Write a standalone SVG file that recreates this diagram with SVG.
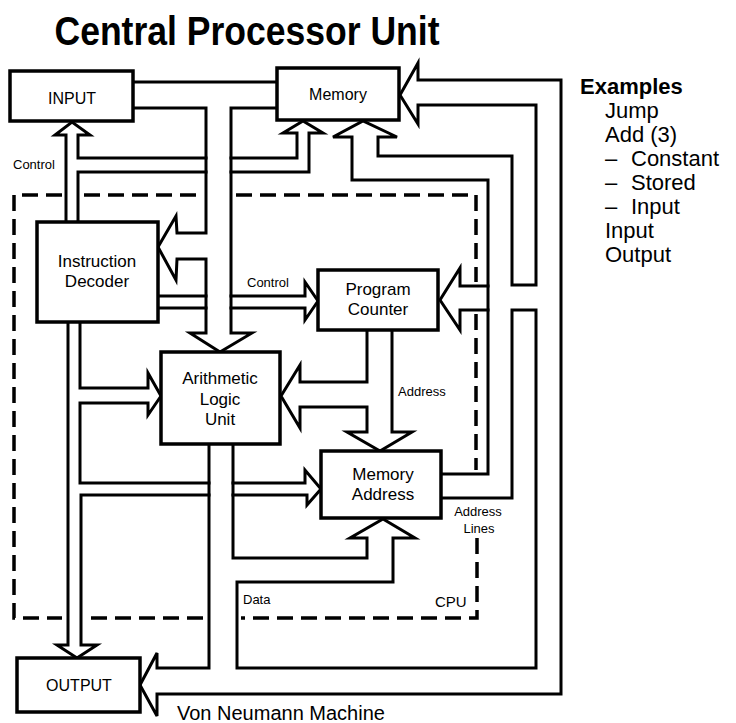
<svg xmlns="http://www.w3.org/2000/svg" width="736" height="723" viewBox="0 0 736 723">
<style>
  text { font-family: "Liberation Sans", Arial, Helvetica, sans-serif; fill: #000; }
  .box { fill: #fff; stroke: #000; stroke-width: 3.5; }
  .ln { fill: none; stroke: #000; stroke-width: 3; stroke-linejoin: miter; stroke-linecap: square; }
  .dash { fill: none; stroke: #000; stroke-width: 3.5; stroke-dasharray: 16 8; }
  .lbl { font-size: 17px; text-anchor: middle; }
  .io { font-size: 16px; text-anchor: middle; }
  .sm { font-size: 13px; }
  .ex { font-size: 22px; }
</style>
<rect width="736" height="723" fill="#fff"/>
<text x="247" y="45" font-size="40" font-weight="bold" text-anchor="middle" textLength="385" lengthAdjust="spacingAndGlyphs">Central Processor Unit</text>

<g id="cpu-border">
  <path class="dash" d="M62,195 H14 V618 H62"/>
  <path class="dash" d="M84,195 H201"/>
  <path class="dash" d="M236,195 H476 V282"/>
  <path class="dash" d="M476,314 V470"/>
  <path class="dash" d="M477,538 V618 H241"/>
  <path class="dash" d="M203,618 H85"/>
</g>

<g id="connectors">
  <path class="ln" d="M133,82 H277"/>
  <path class="ln" d="M133,108 H206 V233 H177 L176,216 L158,247 L176,280 L177,259 H206 V333 H190 L220,352 L252,333 H231 V108 H277"/>
  <path class="ln" d="M66,222 V135 H55 L72,122 L90,135 H78 V158 H206"/>
  <path class="ln" d="M231,158 H297 V133 H283 L303,121 L323,133 H309 V172 H231"/>
  <path class="ln" d="M206,172 H78 V222"/>
  <path class="ln" d="M158,296 H206"/>
  <path class="ln" d="M158,308 H206"/>
  <path class="ln" d="M231,296 H305 V282 L318,301 L305,320 V308 H231"/>
  <path class="ln" d="M441,474 H488 V180 H352 V137 H333 L363,121 L397,137 H378 V156 H512 V285 H536 V105 H418 V124 L400,95 L418,63 V80 H561 V694 H157 V716 L140,685 L157,653 V668 H209 V444"/>
  <path class="ln" d="M441,498 H512 V310 H536 V668 H237 V582 H393 V538 H415 L383,519 L350,538 H367 V558 H233 V444"/>
  <path class="ln" d="M488,286 H460 V268 L440,300 L460,330 V310 H488"/>
  <path class="ln" d="M367,330 V382 H300 V365 L281,396 L300,428 V407 H367 V432 H347 L380,451 L412,432 H392 V330"/>
  <path class="ln" d="M80,322 V388 H148 V373 L161,396 L148,415 V403 H80 V483 H209"/>
  <path class="ln" d="M233,483 H305 V470 L321,489 L307,505 V495 H233"/>
  <path class="ln" d="M209,495 H81 V645 H97 L77,658 L57,645 H68 V322"/>
</g>

<g id="input">
  <rect class="box" x="10" y="71" width="123" height="50"/>
  <text class="io" x="72" y="104">INPUT</text>
</g>
<g id="memory">
  <rect class="box" x="277" y="68" width="122" height="52"/>
  <text class="io" x="338" y="100">Memory</text>
</g>
<g id="instruction-decoder">
  <rect class="box" x="37" y="222" width="121" height="100"/>
  <text class="lbl" x="97" y="267">Instruction</text>
  <text class="lbl" x="97" y="287">Decoder</text>
</g>
<g id="program-counter">
  <rect class="box" x="318" y="270" width="120" height="60"/>
  <text class="lbl" x="378" y="295">Program</text>
  <text class="lbl" x="378" y="315">Counter</text>
</g>
<g id="alu">
  <rect class="box" x="161" y="352" width="119" height="92"/>
  <text class="lbl" x="220" y="384">Arithmetic</text>
  <text class="lbl" x="220" y="405">Logic</text>
  <text class="lbl" x="220" y="425">Unit</text>
</g>
<g id="memory-address">
  <rect class="box" x="321" y="451" width="120" height="67"/>
  <text class="lbl" x="383" y="480">Memory</text>
  <text class="lbl" x="383" y="500">Address</text>
</g>
<g id="output">
  <rect class="box" x="17" y="658" width="123" height="54"/>
  <text class="io" x="79" y="691">OUTPUT</text>
</g>

<g id="labels">
  <text class="sm" x="13" y="169">Control</text>
  <text class="sm" x="247" y="287">Control</text>
  <text class="sm" x="398" y="396">Address</text>
  <text class="sm" x="478" y="516" text-anchor="middle">Address</text>
  <text class="sm" x="479" y="533" text-anchor="middle">Lines</text>
  <text class="sm" x="243" y="604">Data</text>
  <text x="435" y="607" font-size="15">CPU</text>
  <text x="177" y="720" font-size="20">Von Neumann Machine</text>
</g>

<g id="examples">
  <text class="ex" x="580" y="94" font-weight="bold">Examples</text>
  <text class="ex" x="605" y="118">Jump</text>
  <text class="ex" x="605" y="142">Add (3)</text>
  <text class="ex" x="605" y="166">–<tspan x="631">Constant</tspan></text>
  <text class="ex" x="605" y="190">–<tspan x="631">Stored</tspan></text>
  <text class="ex" x="605" y="214">–<tspan x="631">Input</tspan></text>
  <text class="ex" x="605" y="238">Input</text>
  <text class="ex" x="605" y="262">Output</text>
</g>
</svg>
